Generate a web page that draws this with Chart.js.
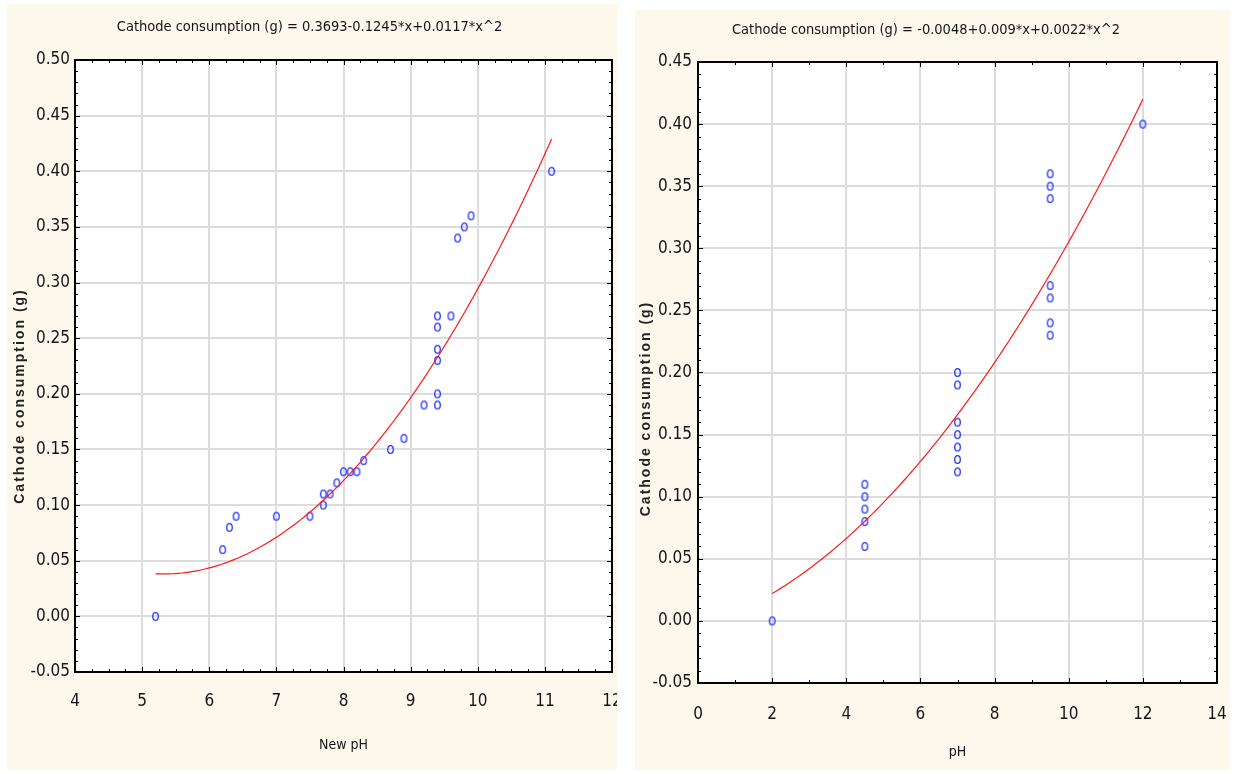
<!DOCTYPE html>
<html>
<head>
<meta charset="utf-8">
<script src="https://cdn.jsdelivr.net/npm/chart.js@4.4.1/dist/chart.umd.min.js"></script>
<style>
  html, body { margin: 0; padding: 0; background: #ffffff; width: 1234px; height: 774px; overflow: hidden; }
  .panel { position: absolute; background: #fdf8ec; }
  #panelLeft  { left: 7px;   top: 4px;  width: 610px; height: 766px; }
  #panelRight { left: 635px; top: 10px; width: 595px; height: 760px; }
  canvas { display: block; }
</style>
</head>
<body>
<div class="panel" id="panelLeft"><canvas id="chartLeft" width="610" height="766"></canvas></div>
<div class="panel" id="panelRight"><canvas id="chartRight" width="595" height="760"></canvas></div>
<script>
// ---- Panel 1: cathode consumption against the new pH ----
const newPH = [5.2, 6.2, 6.3, 6.4, 7.0, 7.5, 7.7, 7.7, 7.8, 7.9, 8.0, 8.1, 8.2, 8.3,
               8.7, 8.9, 9.2, 9.4, 9.4, 9.4, 9.4, 9.4, 9.4, 9.6, 9.7, 9.8, 9.9, 11.1];
const newPHConsumption = [0.00, 0.06, 0.08, 0.09, 0.09, 0.09, 0.10, 0.11, 0.11, 0.12, 0.13, 0.13, 0.13, 0.14,
                          0.15, 0.16, 0.19, 0.19, 0.20, 0.23, 0.24, 0.26, 0.27, 0.27, 0.34, 0.35, 0.36, 0.40];
const newPHFit = [0.3693, -0.1245, 0.0117];          // a + b*x + c*x^2
const newPHTitle = 'Cathode consumption (g) = 0.3693-0.1245*x+0.0117*x^2';
const newPHXLabels = ['4', '5', '6', '7', '8', '9', '10', '11', '12'];
const newPHYLabels = ['-0.05', '0.00', '0.05', '0.10', '0.15', '0.20', '0.25', '0.30', '0.35', '0.40', '0.45', '0.50'];

// ---- Panel 2: cathode consumption against the initial pH ----
const initialPH = [2, 4.5, 4.5, 4.5, 4.5, 4.5, 7, 7, 7, 7, 7, 7, 7,
                   9.5, 9.5, 9.5, 9.5, 9.5, 9.5, 9.5, 12];
const initialPHConsumption = [0.00, 0.06, 0.08, 0.09, 0.10, 0.11, 0.12, 0.13, 0.14, 0.15, 0.16, 0.19, 0.20,
                              0.23, 0.24, 0.26, 0.27, 0.34, 0.35, 0.36, 0.40];
const initialPHFit = [-0.0048, 0.009, 0.0022];
const initialPHTitle = 'Cathode consumption (g) = -0.0048+0.009*x+0.0022*x^2';
const initialPHXLabels = ['0', '2', '4', '6', '8', '10', '12', '14'];
const initialPHYLabels = ['-0.05', '0.00', '0.05', '0.10', '0.15', '0.20', '0.25', '0.30', '0.35', '0.40', '0.45'];

const yTitle = 'Cathode consumption (g)';

const NARROW = "'DejaVu Sans Condensed', 'Liberation Sans Narrow', sans-serif";
const WIDE = "'Liberation Sans', Arial, sans-serif";
const INK = '#151515';

// Open blue ring used for the observations
function ringMarker() {
  const c = document.createElement('canvas');
  c.width = 9; c.height = 11;
  const g = c.getContext('2d');
  g.strokeStyle = '#2535ff';
  g.lineWidth = 1.3;
  g.beginPath();
  g.ellipse(4.5, 5.5, 2.8, 3.9, 0, 0, Math.PI * 2);
  g.stroke();
  return c;
}

// Fitted quadratic sampled over the observed range
function fitCurve(coef, xs) {
  const lo = Math.min(...xs), hi = Math.max(...xs);
  const pts = [];
  const n = 120;
  for (let i = 0; i <= n; i++) {
    const x = lo + (hi - lo) * i / n;
    pts.push({ x, y: coef[0] + coef[1] * x + coef[2] * x * x });
  }
  return pts;
}

// White plot area, black frame and inward major/minor ticks on all four sides
const framePlugin = {
  id: 'frame',
  beforeDraw(chart) {
    const { ctx, chartArea: a } = chart;
    ctx.save();
    ctx.fillStyle = '#ffffff';
    ctx.fillRect(a.left, a.top, a.right - a.left, a.bottom - a.top);
    ctx.restore();
  },
  beforeDatasetsDraw(chart, args, opts) {
    const { ctx, chartArea: a, scales: { x, y } } = chart;
    ctx.save();
    ctx.strokeStyle = '#000000';
    ctx.lineWidth = 1;
    const eps = 1e-9;
    for (let v = x.min; v <= x.max + eps; v += opts.minorX) {
      const major = Math.abs(v / opts.majorX - Math.round(v / opts.majorX)) < 1e-6;
      const len = major ? 5 : 3;
      const px = Math.round(x.getPixelForValue(v)) + 0.5;
      ctx.beginPath();
      ctx.moveTo(px, a.bottom); ctx.lineTo(px, a.bottom - len);
      ctx.moveTo(px, a.top); ctx.lineTo(px, a.top + len);
      ctx.stroke();
    }
    for (let v = y.min; v <= y.max + eps; v += opts.minorY) {
      const major = Math.abs(v / opts.majorY - Math.round(v / opts.majorY)) < 1e-6;
      const len = major ? 5 : 3;
      const py = Math.round(y.getPixelForValue(v)) + 0.5;
      ctx.beginPath();
      ctx.moveTo(a.left, py); ctx.lineTo(a.left + len, py);
      ctx.moveTo(a.right, py); ctx.lineTo(a.right - len, py);
      ctx.stroke();
    }
    ctx.lineWidth = 2;
    ctx.strokeRect(a.left, a.top, a.right - a.left, a.bottom - a.top);
    ctx.restore();
  },
  // letter-spaced vertical axis title, nudged along the axis
  afterLayout(chart, args, opts) {
    const s = chart.scales.y;
    if (s._spacedTitle) return;
    const orig = s.drawTitle;
    s.drawTitle = function () {
      const ctx = this.ctx;
      ctx.save();
      ctx.translate(0, opts.titleShift);
      ctx.letterSpacing = opts.titleSpacing;
      orig.call(this);
      ctx.restore();
    };
    s._spacedTitle = true;
  }
};

function makeChart(id, cfg) {
  const labelsToTicks = labels => labels.map(t => ({ value: parseFloat(t), label: t }));
  return new Chart(document.getElementById(id), {
    type: 'scatter',
    data: {
      datasets: [
        {
          data: cfg.xs.map((x, i) => ({ x, y: cfg.ys[i] })),
          pointStyle: ringMarker(),
          pointRadius: 4,
          order: 1
        },
        {
          data: fitCurve(cfg.fit, cfg.xs),
          showLine: true,
          borderColor: '#ff1a1a',
          borderWidth: 1.2,
          pointRadius: 0,
          tension: 0,
          order: 0
        }
      ]
    },
    options: {
      responsive: false,
      animation: false,
      devicePixelRatio: 1,
      layout: { padding: { left: 0, right: cfg.padRight, top: 0, bottom: 0 } },
      plugins: {
        legend: { display: false },
        tooltip: { enabled: false },
        title: {
          display: true,
          text: cfg.title,
          color: INK,
          font: { family: NARROW, size: 14.5, weight: 'normal' },
          padding: { top: cfg.titleTop, bottom: cfg.titleBottom }
        },
        frame: {
          minorX: cfg.minorX, majorX: cfg.majorX, minorY: 0.01, majorY: 0.05,
          titleShift: cfg.yTitleShift, titleSpacing: '2px'
        }
      },
      scales: {
        x: {
          type: 'linear',
          min: parseFloat(cfg.xLabels[0]),
          max: parseFloat(cfg.xLabels[cfg.xLabels.length - 1]),
          afterFit(s) { s.height = cfg.xAxisHeight; s.paddingLeft = 0; s.paddingRight = 0; },
          afterBuildTicks(s) { s.ticks = labelsToTicks(cfg.xLabels); },
          grid: { color: '#dcdcdc', lineWidth: 2, drawTicks: false },
          border: { display: false },
          ticks: {
            color: INK, padding: cfg.xTickPad, maxRotation: 0, autoSkip: false,
            font: { family: NARROW, size: 17 },
            callback: (v, i) => cfg.xLabels[i]
          },
          title: {
            display: true, text: cfg.xTitle, color: INK,
            font: { family: NARROW, size: 14 },
            padding: { top: 0, bottom: cfg.xTitlePad }
          }
        },
        y: {
          type: 'linear',
          min: parseFloat(cfg.yLabels[0]),
          max: parseFloat(cfg.yLabels[cfg.yLabels.length - 1]),
          afterFit(s) { s.width = cfg.yAxisWidth; s.paddingTop = 0; s.paddingBottom = 0; },
          afterBuildTicks(s) { s.ticks = labelsToTicks(cfg.yLabels); },
          grid: { color: '#dcdcdc', lineWidth: 2, drawTicks: false },
          border: { display: false },
          ticks: {
            color: INK, padding: cfg.yTickPad, autoSkip: false,
            font: { family: NARROW, size: 17 },
            callback: (v, i) => cfg.yLabels[i]
          },
          title: {
            display: true, text: yTitle, color: '#222222',
            font: { family: WIDE, size: 14, weight: 'bold' },
            padding: { top: cfg.yTitlePad, bottom: 0 }
          }
        }
      }
    },
    plugins: [framePlugin]
  });
}

makeChart('chartLeft', {
  xs: newPH, ys: newPHConsumption, fit: newPHFit, title: newPHTitle,
  xLabels: newPHXLabels, yLabels: newPHYLabels, xTitle: 'New pH',
  minorX: 0.25, majorX: 1,
  padRight: 5, titleTop: 15, titleBottom: 23.6,
  xAxisHeight: 98, yAxisWidth: 68,
  xTickPad: 19, yTickPad: 5, xTitlePad: 16.6, yTitlePad: 4.6, yTitleShift: 30
});

makeChart('chartRight', {
  xs: initialPH, ys: initialPHConsumption, fit: initialPHFit, title: initialPHTitle,
  xLabels: initialPHXLabels, yLabels: initialPHYLabels, xTitle: 'pH',
  minorX: 1, majorX: 2,
  padRight: 13, titleTop: 12, titleBottom: 22.6,
  xAxisHeight: 87, yAxisWidth: 63,
  xTickPad: 21, yTickPad: 6, xTitlePad: 9.6, yTitlePad: 2.6, yTitleShift: 36
});
</script>
</body>
</html>
